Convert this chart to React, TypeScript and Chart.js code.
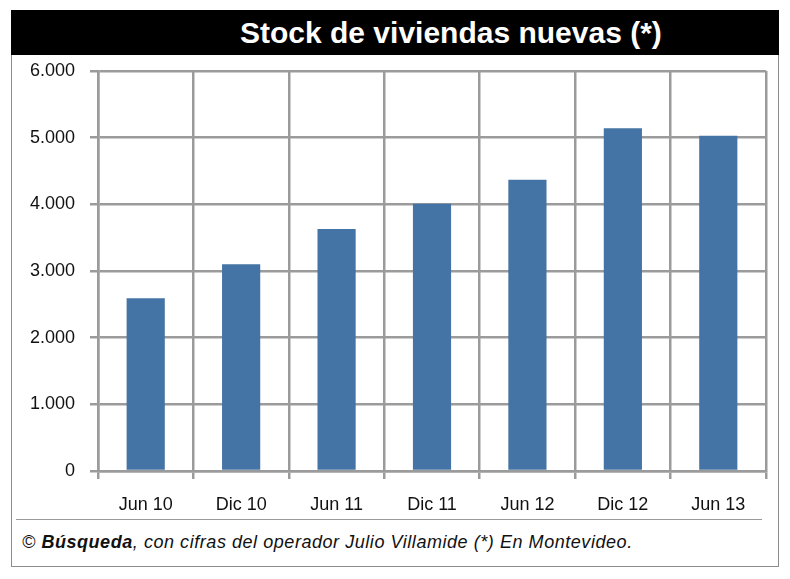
import React, { useEffect, useRef } from "react";
import { Chart, registerables } from "chart.js";

Chart.register(...registerables);

const categories = ["Jun 10", "Dic 10", "Jun 11", "Dic 11", "Jun 12", "Dic 12", "Jun 13"];
const stockValues = [2590, 3100, 3630, 4010, 4370, 5140, 5030];
const yTicks = [0, 1000, 2000, 3000, 4000, 5000, 6000];
const titleText = "Stock de viviendas nuevas (*)";
const sourceBold = "Búsqueda";
const sourceRest = ", con cifras del operador Julio Villamide (*) En Montevideo.";

const GRID = "#9b9b9b";
const FONT = "'Liberation Sans', Arial, Helvetica, sans-serif";

export default function App() {
  const ref = useRef<HTMLCanvasElement | null>(null);

  useEffect(() => {
    if (!ref.current) return;
    const chart = new Chart(ref.current, {
      type: "bar",
      data: {
        labels: categories,
        datasets: [
          {
            data: stockValues,
            backgroundColor: "#4473a5",
            borderWidth: 0,
            barPercentage: 0.4,
            categoryPercentage: 1.0,
          },
        ],
      },
      options: {
        responsive: false,
        animation: false,
        devicePixelRatio: 1,
        layout: { padding: { top: 15, right: 11, left: 0, bottom: 0 } },
        plugins: { legend: { display: false }, tooltip: { enabled: false }, title: { display: false } },
        scales: {
          x: {
            grid: { color: GRID, lineWidth: 2.5, tickLength: 8, offset: true, drawTicks: true },
            border: { display: true, color: GRID, width: 2.5 },
            ticks: { color: "#111", font: { family: FONT, size: 18 }, padding: 15, maxRotation: 0 },
            afterFit: (s: any) => {
              s.height = 47;
              s.paddingLeft = 0;
              s.paddingRight = 0;
            },
          },
          y: {
            min: 0,
            max: 6000,
            afterBuildTicks: (s: any) => {
              s.ticks = yTicks.map((v) => ({ value: v }));
            },
            grid: { color: GRID, lineWidth: 2.5, tickLength: 8 },
            border: { display: true, color: GRID, width: 2.5 },
            ticks: {
              color: "#111",
              font: { family: FONT, size: 18 },
              padding: 15,
              callback: (v: any) => Number(v).toLocaleString("de-DE"),
            },
            afterFit: (s: any) => {
              s.width = 86;
              s.paddingTop = 0;
              s.paddingBottom = 0;
            },
          },
        },
      },
    });
    return () => chart.destroy();
  }, []);

  return (
    <div style={{ position: "absolute", left: 0, top: 0, width: 790, height: 579, background: "#fff", fontFamily: FONT }}>
      <div
        style={{
          position: "absolute",
          left: 11,
          top: 10,
          width: 766,
          height: 555,
          border: "1.5px solid #8c8c8c",
        }}
      />
      <div style={{ position: "absolute", left: 11, top: 10, width: 768, height: 45, background: "#000" }} />
      <div
        style={{
          position: "absolute",
          left: 240,
          top: 18,
          fontSize: 30,
          lineHeight: "30px",
          fontWeight: "bold",
          color: "#fff",
          whiteSpace: "nowrap",
        }}
      >
        {titleText}
      </div>
      <canvas
        ref={ref}
        width={765}
        height={462}
        style={{ position: "absolute", left: 12, top: 56, width: 765, height: 462 }}
      />
      <div style={{ position: "absolute", left: 16, top: 519, width: 746, height: 0, borderTop: "1.5px solid #9a9a9a" }} />
      <div
        style={{
          position: "absolute",
          left: 22,
          top: 531,
          fontSize: 18,
          lineHeight: "22px",
          letterSpacing: "0.55px",
          fontStyle: "italic",
          color: "#111",
          whiteSpace: "nowrap",
        }}
      >
        © <b>{sourceBold}</b>
        {sourceRest}
      </div>
    </div>
  );
}
